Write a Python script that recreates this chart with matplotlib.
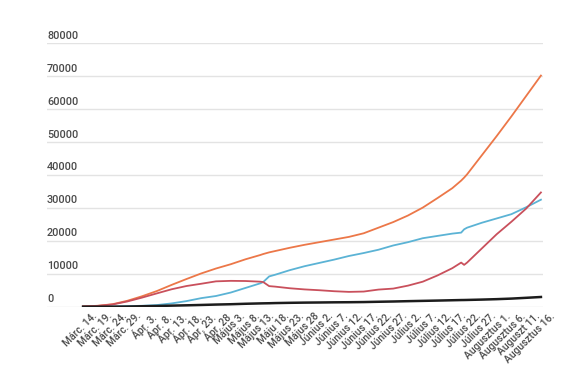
import matplotlib
matplotlib.use("Agg")
import matplotlib.pyplot as plt
import matplotlib.transforms as mtransforms

# Day offsets from March 14 (2020)
days = [0, 5, 10, 15, 20, 25, 30, 35, 40, 45, 50, 55, 60, 61, 63, 65, 70, 75,
        80, 85, 90, 95, 100, 105, 110, 115, 120, 125, 128, 129, 130, 135,
        140, 145, 150, 155]

confirmed = [100, 280, 760, 1800, 3180, 4760, 6630, 8400, 10100, 11600, 12900,
             14400, 15700, 16000, 16500, 16900, 17900, 18800, 19600, 20400,
             21200, 22300, 24000, 25700, 27700, 30100, 33000, 36000, 38300,
             39200, 40200, 46000, 51800, 57800, 64000, 70200]

recovered = [10, 25, 70, 170, 280, 500, 1000, 1700, 2600, 3250, 4300, 5700,
             7100, 7500, 9200, 9700, 11100, 12300, 13300, 14300, 15400, 16300,
             17300, 18600, 19600, 20800, 21500, 22200, 22500, 23500, 24000,
             25500, 26800, 28100, 30200, 32500]

active = [90, 255, 680, 1590, 2770, 4050, 5300, 6280, 6970, 7700, 7850, 7800,
          7600, 7480, 6250, 6100, 5600, 5250, 5000, 4700, 4500, 4600, 5200,
          5500, 6400, 7600, 9500, 11700, 13400, 12700, 13400, 17700, 22000,
          25800, 29800, 34700]

deaths = [0, 0, 11, 44, 133, 215, 325, 420, 530, 650, 750, 890, 1000, 1020,
          1050, 1100, 1180, 1240, 1280, 1330, 1360, 1410, 1500, 1580, 1680,
          1770, 1860, 1960, 2020, 2030, 2050, 2160, 2290, 2460, 2700, 2950]

tick_days = list(range(0, 156, 5))
tick_labels = ["Márc. 14.", "Márc. 19.", "Márc. 24.", "Márc. 29.", "Ápr. 3.",
               "Ápr. 8.", "Ápr. 13.", "Ápr. 18.", "Ápr. 23.", "Ápr. 28",
               "Május 3.", "Május 8.", "Május 13.", "Máju 18.", "Május 23.",
               "Május 28", "Június 2.", "Június 7.", "Június 12.", "Június 17.",
               "Június 22.", "Június 27.", "Július 2.", "Július 7.",
               "Július 12.", "Július 17.", "Július 22.", "Július 27.",
               "Augusztus 1.", "Augusztus 6.", "Auguszt 11.", "Augusztus 16."]

y_ticks = [0, 10000, 20000, 30000, 40000, 50000, 60000, 70000, 80000]

plt.rcParams['font.family'] = ['Roboto', 'DejaVu Sans']

fig = plt.figure(figsize=(5.75, 3.87), dpi=100)
ax = fig.add_axes([47/575, 1 - 306.7/387, (543-47)/575, (306.7-43.3)/387])

ax.plot(days, confirmed, color="#ec7748", lw=1.3, zorder=3)
ax.plot(days, recovered, color="#5bb3d5", lw=1.3, zorder=3)
ax.plot(days, active, color="#c9505c", lw=1.3, zorder=4)
ax.plot(days, deaths, color="#1c1c1c", lw=1.8, zorder=5)

ax.set_xlim(-12.2, 155.7)
ax.set_ylim(0, 80000)

for s in ax.spines.values():
    s.set_visible(False)

ax.set_yticks(y_ticks)
ax.yaxis.grid(True, color="#e3e3e3", lw=1.0)
ax.set_axisbelow(True)
ax.tick_params(axis='y', length=0, labelleft=False)

trans = mtransforms.blended_transform_factory(ax.transAxes, ax.transData)
trans = trans + mtransforms.ScaledTranslation(0, 2.5/100, fig.dpi_scale_trans)
for v in y_ticks:
    ax.text(0, v, str(v), transform=trans, ha='left', va='bottom',
            fontsize=7.8, color="#4a4a4a", fontweight='medium')

ax.set_xticks(tick_days)
ax.set_xticklabels(tick_labels, rotation=45, ha='right', rotation_mode='anchor',
                   fontsize=7.4, color="#4a4a4a", fontweight='medium')
ax.tick_params(axis='x', length=0, pad=3)
offset = mtransforms.ScaledTranslation(9/100, 0, fig.dpi_scale_trans)
for lab in ax.get_xticklabels():
    lab.set_transform(lab.get_transform() + offset)

fig.savefig("out.png", dpi=100, facecolor="white")
